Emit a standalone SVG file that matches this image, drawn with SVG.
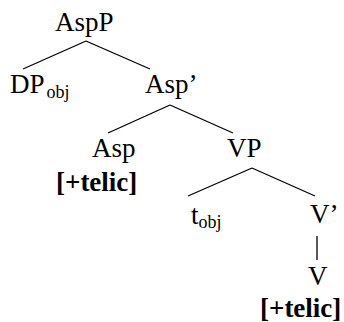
<svg xmlns="http://www.w3.org/2000/svg" width="344" height="322" viewBox="0 0 344 322">
<style>
.t{font-family:"Liberation Serif","Times New Roman",serif;font-size:27px;fill:#000}
.s{font-size:18px}
.b{font-weight:bold}
.e{stroke:#000;stroke-width:1.3;fill:none}
</style>
<rect width="344" height="322" fill="#fff"/>
<g id="connectors">
<line class="e" x1="86" y1="41" x2="23" y2="69"/>
<line class="e" x1="86" y1="41" x2="150" y2="69"/>
<line class="e" x1="170" y1="105" x2="108" y2="133"/>
<line class="e" x1="170" y1="105" x2="233" y2="133"/>
<line class="e" x1="252" y1="168" x2="188" y2="196"/>
<line class="e" x1="252" y1="168" x2="315" y2="196"/>
<line class="e" x1="317" y1="236" x2="317" y2="260"/>
</g>
<g id="AspP"><text class="t" x="55" y="31">AspP</text></g>
<g id="DPobj"><text class="t" x="10" y="93">DP<tspan class="s" dx="2" dy="5">obj</tspan></text></g>
<g id="AspBar"><text class="t" x="145" y="93">Asp’</text></g>
<g id="Asp"><text class="t" x="92" y="157">Asp</text><text class="t b" x="56" y="191">[+telic]</text></g>
<g id="VP"><text class="t" x="227" y="157">VP</text></g>
<g id="tobj"><text class="t" x="191" y="224">t<tspan class="s" dy="4">obj</tspan></text></g>
<g id="VBar"><text class="t" x="310" y="223">V’</text></g>
<g id="V"><text class="t" x="308" y="285">V</text><text class="t b" x="260" y="317">[+telic]</text></g>
</svg>
